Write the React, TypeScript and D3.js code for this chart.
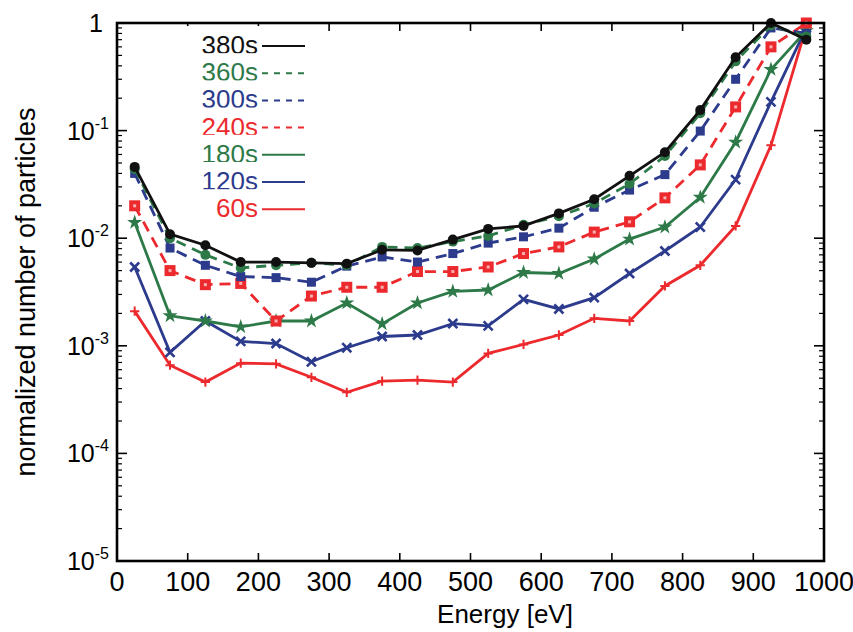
import React from 'react'
import * as d3 from 'd3'

const energies = [25, 75, 125, 175, 225, 275, 325, 375, 425, 475, 525, 575, 625, 675, 725, 775, 825, 875, 925, 975]

const s380 = [0.046, 0.0109, 0.0086, 0.006, 0.006, 0.0059, 0.0058, 0.0078, 0.0077, 0.0097, 0.0122, 0.013, 0.017, 0.023, 0.038, 0.063, 0.155, 0.48, 1.0, 0.7]
const s360 = [0.044, 0.01, 0.007, 0.0053, 0.0056, 0.0059, 0.0056, 0.0083, 0.0081, 0.0093, 0.0105, 0.0133, 0.016, 0.021, 0.032, 0.058, 0.145, 0.44, 0.95, 0.75]
const s300 = [0.04, 0.0081, 0.0056, 0.0044, 0.0043, 0.0039, 0.0055, 0.0067, 0.006, 0.0072, 0.009, 0.0103, 0.0124, 0.0194, 0.028, 0.039, 0.099, 0.3, 0.9, 0.8]
const s240 = [0.02, 0.005, 0.0037, 0.0038, 0.0017, 0.0029, 0.0035, 0.0035, 0.0049, 0.0049, 0.0054, 0.0072, 0.0083, 0.0114, 0.0142, 0.0237, 0.048, 0.166, 0.6, 1.0]
const s180 = [0.014, 0.0019, 0.0017, 0.0015, 0.0017, 0.0017, 0.0025, 0.0016, 0.0025, 0.0032, 0.0033, 0.0048, 0.0047, 0.0064, 0.0098, 0.0127, 0.024, 0.078, 0.37, 0.85]
const s120 = [0.0054, 0.00087, 0.0017, 0.0011, 0.00105, 0.00071, 0.00096, 0.00122, 0.00126, 0.00161, 0.00153, 0.0027, 0.0022, 0.0028, 0.0047, 0.0076, 0.0127, 0.035, 0.185, 0.9]
const s60 = [0.0021, 0.00066, 0.00046, 0.00069, 0.00068, 0.00051, 0.00037, 0.00047, 0.00048, 0.00046, 0.00085, 0.00103, 0.00126, 0.0018, 0.0017, 0.0036, 0.0056, 0.013, 0.073, 0.92]

const xTicks = [0, 100, 200, 300, 400, 500, 600, 700, 800, 900, 1000]
const yTicks = [1, 0.1, 0.01, 0.001, 0.0001, 0.00001]
const yTickExp = ['', '-1', '-2', '-3', '-4', '-5']

const BLACK = '#111'
const GREEN = '#2d7a48'
const NAVY = '#2c3b8c'
const RED = '#ec2a2e'

// drawn from bottom to top, legend lists them in reverse
const series = [
  { label: '60s', values: s60, color: RED, dash: null, marker: 'plus' },
  { label: '120s', values: s120, color: NAVY, dash: null, marker: 'x' },
  { label: '180s', values: s180, color: GREEN, dash: null, marker: 'star' },
  { label: '240s', values: s240, color: RED, dash: '11 7', marker: 'square' },
  { label: '300s', values: s300, color: NAVY, dash: '11 7', marker: 'smallsquare' },
  { label: '360s', values: s360, color: GREEN, dash: '10 7', marker: 'circle' },
  { label: '380s', values: s380, color: BLACK, dash: null, marker: 'circle' }
]

const margin = { left: 117, right: 29, top: 23, bottom: 71 }
const W = 853
const H = 632
const FONT = "'Liberation Sans', Arial, sans-serif"

const Marker = ({ type, x, y, color }) => {
  if (type === 'circle') return <circle cx={x} cy={y} r={5} fill={color} />
  if (type === 'square')
    return (
      <g>
        <rect x={x - 5.5} y={y - 5.5} width={11} height={11} fill={color} />
        <rect x={x - 1.5} y={y - 1.5} width={3} height={3} fill="#f7b0b0" />
      </g>
    )
  if (type === 'smallsquare') return <rect x={x - 4.5} y={y - 4.5} width={9} height={9} fill={color} />
  if (type === 'star') return <path d={d3.symbol(d3.symbolStar, 70)()} transform={`translate(${x},${y})`} fill={color} />
  if (type === 'x') return <path d={d3.symbol(d3.symbolTimes, 55)()} transform={`translate(${x},${y})`} stroke={color} strokeWidth={2.6} fill="none" />
  return <path d={d3.symbol(d3.symbolPlus, 30)()} transform={`translate(${x},${y})`} stroke={color} strokeWidth={2} fill="none" />
}

const App = () => {
  const x = d3.scaleLinear().domain([0, 1000]).range([margin.left, W - margin.right])
  const y = d3.scaleLog().domain([1e-5, 1]).range([H - margin.bottom, margin.top])
  const line = d3.line().x((d) => x(d[0])).y((d) => y(d[1]))

  const minorTicks = []
  for (let e = -5; e < 0; e++) {
    for (let m = 2; m <= 9; m++) minorTicks.push(m * Math.pow(10, e))
  }

  const x0 = x(0)
  const x1 = x(1000)
  const yb = y(1e-5)
  const yt = y(1)

  return (
    <svg width={W} height={H} style={{ position: 'absolute', left: 0, top: 0, background: '#fff' }} fontFamily={FONT}>
      {/* series */}
      {series.map((s) => {
        const pts = energies.map((e, i) => [e, s.values[i]])
        return (
          <g key={s.label}>
            <path d={line(pts)} fill="none" stroke={s.color} strokeWidth={2.8} strokeDasharray={s.dash || undefined} />
            {pts.map((p, i) => (
              <Marker key={i} type={s.marker} x={x(p[0])} y={y(p[1])} color={s.color} />
            ))}
          </g>
        )
      })}

      {/* frame + ticks */}
      <rect x={x0} y={yt} width={x1 - x0} height={yb - yt} fill="none" stroke="#000" strokeWidth={2.6} />
      {xTicks.map((t) => (
        <g key={t}>
          <line x1={x(t)} x2={x(t)} y1={yb} y2={yb - 8} stroke="#000" strokeWidth={1.6} />
          <line x1={x(t)} x2={x(t)} y1={yt} y2={yt + 8} stroke="#000" strokeWidth={1.6} />
          <text x={x(t)} y={yb + 30} textAnchor="middle" fontSize={27}>
            {t}
          </text>
        </g>
      ))}
      {yTicks.map((t, i) => (
        <g key={t}>
          <line x1={x0} x2={x0 + 10} y1={y(t)} y2={y(t)} stroke="#000" strokeWidth={1.6} />
          <line x1={x1} x2={x1 - 10} y1={y(t)} y2={y(t)} stroke="#000" strokeWidth={1.6} />
          {yTickExp[i] === '' ? (
            <text x={x0 - 14} y={y(t) + 9} textAnchor="end" fontSize={25}>
              1
            </text>
          ) : (
            <text x={x0 - 8} y={y(t) + 9} textAnchor="end" fontSize={25}>
              10
              <tspan fontSize={16} dy={-11}>
                {yTickExp[i]}
              </tspan>
            </text>
          )}
        </g>
      ))}
      {minorTicks.map((t) => (
        <g key={t}>
          <line x1={x0} x2={x0 + 5} y1={y(t)} y2={y(t)} stroke="#000" strokeWidth={1.2} />
          <line x1={x1} x2={x1 - 5} y1={y(t)} y2={y(t)} stroke="#000" strokeWidth={1.2} />
        </g>
      ))}

      {/* axis titles */}
      <text x={505} y={H - 9} textAnchor="middle" fontSize={26}>
        Energy [eV]
      </text>
      <text transform={`translate(35, ${(yt + yb) / 2}) rotate(-90)`} textAnchor="middle" fontSize={27}>
        normalized number of particles
      </text>

      {/* legend */}
      {series
        .slice()
        .reverse()
        .map((s, i) => {
          const ly = 46 + i * 27.2
          return (
            <g key={s.label}>
              <rect x={s.label.length === 3 ? 200 : 180} y={ly - 20} width={82} height={26} fill="#fff" />
              <text x={258} y={ly + 8} textAnchor="end" fontSize={26} fill={s.color}>
                {s.label}
              </text>
              <line x1={262} x2={305} y1={ly} y2={ly} stroke={s.color} strokeWidth={2} strokeDasharray={s.dash ? '6 6' : undefined} />
            </g>
          )
        })}
    </svg>
  )
}

export default App
